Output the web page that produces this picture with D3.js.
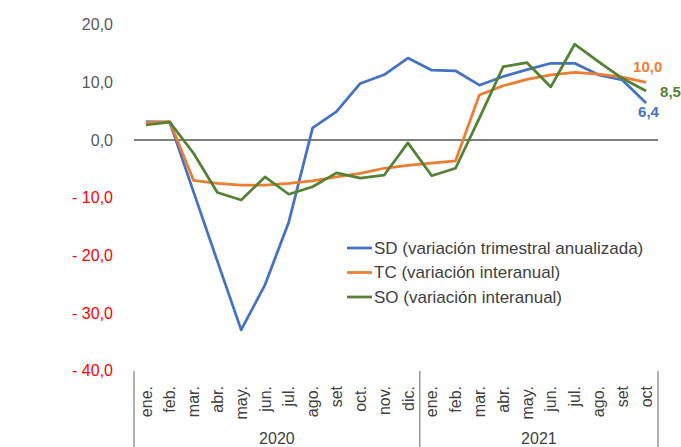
<!DOCTYPE html>
<html>
<head>
<meta charset="utf-8">
<script src="https://cdn.jsdelivr.net/npm/d3@7"></script>
<style>
  body { margin: 0; background: #fff; }
  text { font-family: "Liberation Sans", Arial, sans-serif; }
</style>
</head>
<body>
<script>
// months and years on the x axis
const months = ["ene.", "feb.", "mar.", "abr.", "may.", "jun.", "jul.", "ago.", "set", "oct.", "nov.", "dic.",
                "ene.", "feb.", "mar.", "abr.", "may.", "jun.", "jul.", "ago.", "set", "oct"];
const years = ["2020", "2020", "2020", "2020", "2020", "2020", "2020", "2020", "2020", "2020", "2020", "2020",
               "2021", "2021", "2021", "2021", "2021", "2021", "2021", "2021", "2021", "2021"];

// series values
const sd = [3.2, 3.1, -9.0, -21.0, -32.9, -25.1, -14.2, 2.1, 4.9, 9.8, 11.3, 14.2,
            12.1, 12.0, 9.5, 11.0, 12.2, 13.3, 13.3, 11.3, 10.4, 6.4];
const tc = [3.0, 3.2, -7.0, -7.5, -7.8, -7.8, -7.5, -7.1, -6.4, -5.8, -4.9, -4.4,
            -4.0, -3.6, 7.8, 9.4, 10.5, 11.3, 11.7, 11.4, 10.9, 10.0];
const so = [2.6, 3.1, -2.3, -9.1, -10.4, -6.4, -9.4, -8.1, -5.7, -6.6, -6.1, -0.5,
            -6.2, -4.9, 3.8, 12.7, 13.4, 9.2, 16.6, 13.6, 10.7, 8.5];

const yTicks = [20, 10, 0, -10, -20, -30, -40];

const series = [
  {name: "SD (variación trimestral anualizada)", values: sd, color: "#4472c4", label: "6,4", dx: -8, dy: 9},
  {name: "TC (variación interanual)", values: tc, color: "#ed7d31", label: "10,0", dx: -13, dy: -16},
  {name: "SO (variación interanual)", values: so, color: "#548235", label: "8,5", dx: 14, dy: 1}
];

const svg = d3.select("body").append("svg")
    .attr("width", 681)
    .attr("height", 447);

// scales
const x = d3.scaleBand().domain(d3.range(months.length)).range([134, 658]);
const y = d3.scaleLinear().domain([-40, 20]).range([370.8, 24.6]);
const cx = i => x(i) + x.bandwidth() / 2;

// y axis, no line, red negative labels
const fmt = v => (v < 0 ? "- " : "") + d3.format(".1f")(Math.abs(v)).replace(".", ",");
const yAxis = svg.append("g")
    .attr("transform", "translate(134,0)")
    .call(d3.axisLeft(y).tickValues(yTicks).tickSize(0).tickPadding(21).tickFormat(fmt));
yAxis.select(".domain").remove();
yAxis.selectAll("text")
    .style("font-size", "16px")
    .attr("fill", d => d < 0 ? "#ff0000" : "#595959");

// zero line
svg.append("line")
    .attr("x1", 134).attr("x2", 658)
    .attr("y1", y(0)).attr("y2", y(0))
    .attr("stroke", "#000").attr("stroke-width", 1);

// x axis: month labels rotated, year groups with separators
svg.selectAll(".month")
    .data(months)
    .enter().append("text")
    .attr("class", "month")
    .attr("transform", (d, i) => "translate(" + cx(i) + ",386) rotate(-90)")
    .attr("dy", "0.35em")
    .attr("text-anchor", "end")
    .style("font-size", "16px")
    .attr("fill", "#404040")
    .text(d => d);

const yearNames = Array.from(new Set(years));
const seps = [0];
yearNames.forEach(yr => seps.push(years.lastIndexOf(yr) + 1));
svg.selectAll(".sep")
    .data(seps)
    .enter().append("line")
    .attr("class", "sep")
    .attr("x1", d => d < months.length ? x(d) : x.range()[1])
    .attr("x2", d => d < months.length ? x(d) : x.range()[1])
    .attr("y1", 371).attr("y2", 447)
    .attr("stroke", "#7f7f7f").attr("stroke-width", 1.2);

svg.selectAll(".year")
    .data(yearNames)
    .enter().append("text")
    .attr("class", "year")
    .attr("x", d => (cx(years.indexOf(d)) + cx(years.lastIndexOf(d))) / 2)
    .attr("y", 444)
    .attr("text-anchor", "middle")
    .style("font-size", "16px")
    .attr("fill", "#404040")
    .text(d => d);

// lines
const line = d3.line().x((d, i) => cx(i)).y(d => y(d));
svg.selectAll(".series")
    .data(series)
    .enter().append("path")
    .attr("class", "series")
    .attr("d", d => line(d.values))
    .attr("fill", "none")
    .attr("stroke", d => d.color)
    .attr("stroke-width", 2.75)
    .attr("stroke-linejoin", "round");

// end labels
const last = months.length - 1;
svg.selectAll(".endlabel")
    .data(series)
    .enter().append("text")
    .attr("class", "endlabel")
    .attr("x", d => cx(last) + d.dx)
    .attr("y", d => y(d.values[last]) + d.dy)
    .attr("dy", "0.35em")
    .style("font-size", "15px")
    .style("font-weight", "bold")
    .attr("fill", d => d.color)
    .text(d => d.label);

// legend
const legend = svg.append("g").attr("transform", "translate(347,248)");
const item = legend.selectAll("g")
    .data(series)
    .enter().append("g")
    .attr("transform", (d, i) => "translate(0," + i * 24.5 + ")");
item.append("line")
    .attr("x1", 0).attr("x2", 25)
    .attr("stroke", d => d.color).attr("stroke-width", 2.75);
item.append("text")
    .attr("x", 27)
    .attr("dy", "0.35em")
    .style("font-size", "17px")
    .attr("fill", "#404040")
    .text(d => d.name);
</script>
</body>
</html>
